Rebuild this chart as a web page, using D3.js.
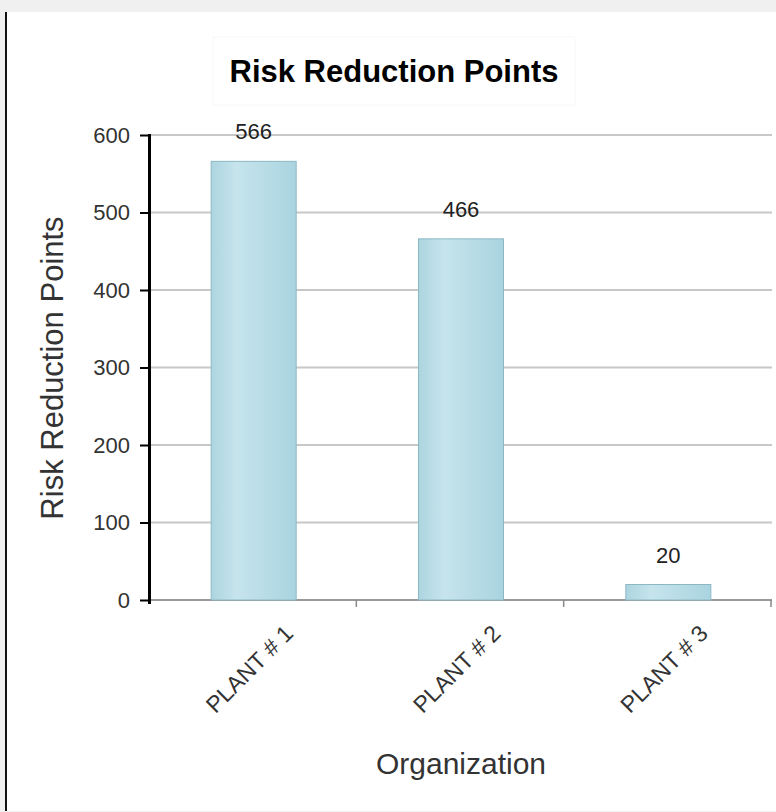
<!DOCTYPE html>
<html>
<head>
<meta charset="utf-8">
<script src="https://cdn.jsdelivr.net/npm/d3@7"></script>
<style>
  html, body { margin: 0; padding: 0; background: #f0f0f0; }
  svg { display: block; }
  text { font-family: "Liberation Sans", Arial, sans-serif; }
</style>
</head>
<body>
<script>
const categories = ["PLANT # 1", "PLANT # 2", "PLANT # 3"];
const values = [566, 466, 20];
const yTicks = [0, 100, 200, 300, 400, 500, 600];
const chartTitle = "Risk Reduction Points";
const yTitle = "Risk Reduction Points";
const xTitle = "Organization";

const W = 776, H = 812;
const svg = d3.select("body").append("svg").attr("width", W).attr("height", H);

// panel
svg.append("rect").attr("x", 0).attr("y", 0).attr("width", W).attr("height", H).attr("fill", "#f0f0f0");
svg.append("rect").attr("x", 7).attr("y", 12).attr("width", W - 7).attr("height", 799).attr("fill", "#ffffff");
svg.append("line").attr("x1", 6).attr("x2", 6).attr("y1", 12).attr("y2", 811)
  .attr("stroke", "#111").attr("stroke-width", 2);

// gradient
const defs = svg.append("defs");
const grad = defs.append("linearGradient").attr("id", "barGrad")
  .attr("x1", "0%").attr("x2", "100%").attr("y1", "0%").attr("y2", "0%");
grad.append("stop").attr("offset", "0%").attr("stop-color", "#acd5e0");
grad.append("stop").attr("offset", "30%").attr("stop-color", "#c6e4ec");
grad.append("stop").attr("offset", "100%").attr("stop-color", "#a9d4e0");

const x = d3.scaleBand().domain(categories).range([149, 771]).padding(0);
const y = d3.scaleLinear().domain([0, 600]).range([600, 135]);

// title box (faint)
svg.append("rect").attr("x", 213).attr("y", 37).attr("width", 362).attr("height", 68)
  .attr("fill", "none").attr("stroke", "#f8f8f8").attr("stroke-width", 1);
svg.append("text").attr("x", 394).attr("y", 82).attr("text-anchor", "middle")
  .attr("font-size", 31).attr("font-weight", "bold").attr("fill", "#000").text(chartTitle);

// gridlines
svg.append("g").selectAll("line").data(yTicks.filter(d => d > 0)).join("line")
  .attr("x1", 150).attr("x2", 772)
  .attr("y1", d => y(d)).attr("y2", d => y(d))
  .attr("stroke", "#c8c8c8").attr("stroke-width", 2);

// x axis
const xAxisG = svg.append("g").attr("transform", "translate(0,600)");
xAxisG.append("line").attr("x1", 149).attr("x2", 772).attr("y1", 0).attr("y2", 0)
  .attr("stroke", "#999").attr("stroke-width", 2);
const edges = categories.map(c => x(c)).concat([x(categories[categories.length - 1]) + x.bandwidth()]);
xAxisG.selectAll("line.tk").data(edges.slice(1)).join("line").attr("class", "tk")
  .attr("x1", d => d).attr("x2", d => d).attr("y1", 0).attr("y2", 7)
  .attr("stroke", "#888").attr("stroke-width", 1.5);

// bars
const barW = x.bandwidth() * 0.41;
svg.append("g").selectAll("rect").data(values).join("rect")
  .attr("x", (d, i) => x(categories[i]) + x.bandwidth() / 2 - barW / 2 + 1)
  .attr("y", d => y(d))
  .attr("width", barW)
  .attr("height", d => y(0) - y(d))
  .attr("fill", "url(#barGrad)")
  .attr("stroke", "#8cb8c4").attr("stroke-width", 1);

// value labels
svg.append("g").selectAll("text").data(values).join("text")
  .attr("x", (d, i) => x(categories[i]) + x.bandwidth() / 2 + 1)
  .attr("y", d => y(d) - 22)
  .attr("text-anchor", "middle").attr("font-size", 22).attr("fill", "#222")
  .text(d => d);

// y axis
const yAxis = d3.axisLeft(y).tickValues(yTicks).tickSize(10).tickPadding(9);
const yAxisG = svg.append("g").attr("transform", "translate(150,0)").call(yAxis);
yAxisG.select(".domain").remove();
yAxisG.selectAll(".tick line").attr("stroke", "#000").attr("stroke-width", 2).attr("x1", 0);
yAxisG.selectAll(".tick text").attr("font-size", 22).attr("fill", "#333")
  .attr("font-family", "Liberation Sans, Arial, sans-serif").attr("x", -20);
svg.append("line").attr("x1", 149.5).attr("x2", 149.5).attr("y1", 134).attr("y2", 604)
  .attr("stroke", "#000").attr("stroke-width", 3);

// x labels
svg.append("g").selectAll("text").data(categories).join("text")
  .attr("transform", d => `translate(${x(d) + x.bandwidth() / 2 + 42},635) rotate(-45)`)
  .attr("text-anchor", "end").attr("font-size", 23).attr("fill", "#333")
  .text(d => d);

// axis titles
svg.append("text").attr("transform", "translate(63,368) rotate(-90)")
  .attr("text-anchor", "middle").attr("font-size", 31).attr("fill", "#333").text(yTitle);
svg.append("text").attr("x", 461).attr("y", 774)
  .attr("text-anchor", "middle").attr("font-size", 30).attr("fill", "#333").text(xTitle);
</script>
</body>
</html>
